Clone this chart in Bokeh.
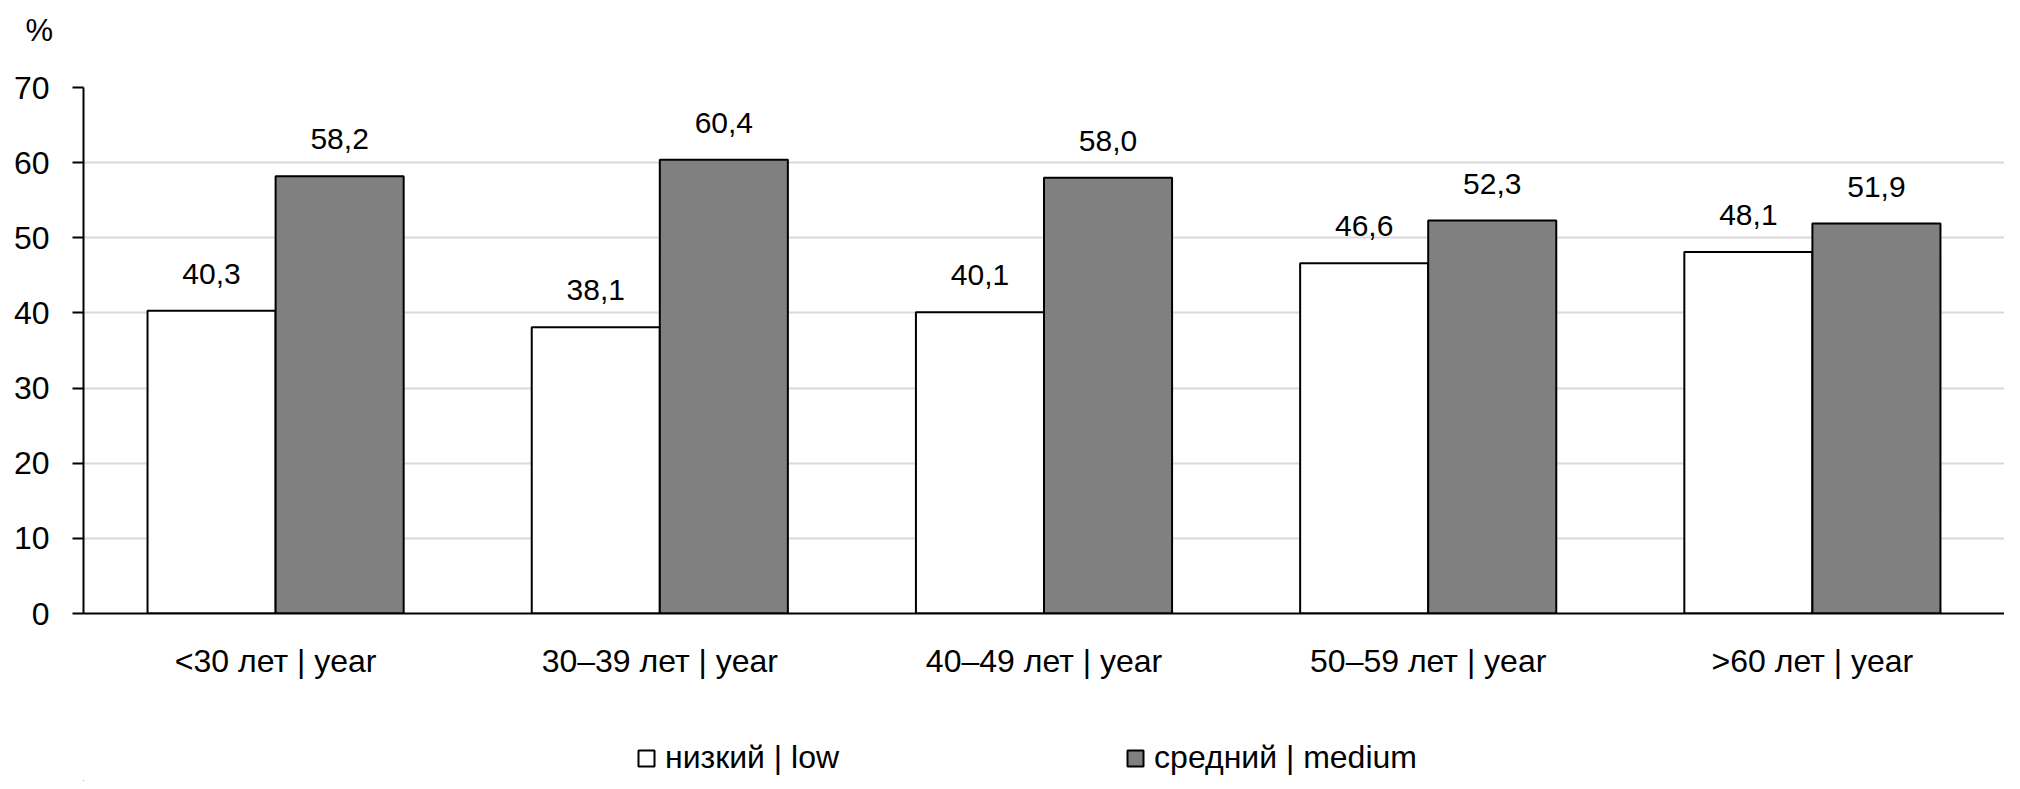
from bokeh.plotting import figure
from bokeh.models import ColumnDataSource, FactorRange, Range1d, Legend, LegendItem, FixedTicker
from bokeh.layouts import column
from bokeh.transform import dodge
from bokeh.core.properties import value
from bokeh.embed import file_html
from bokeh.resources import INLINE

categories = ["<30 лет | year", "30–39 лет | year", "40–49 лет | year", "50–59 лет | year", ">60 лет | year"]
low = [40.3, 38.1, 40.1, 46.6, 48.1]
medium = [58.2, 60.4, 58.0, 52.3, 51.9]
series_names = ["низкий | low", "средний | medium"]
y_ticks = [0, 10, 20, 30, 40, 50, 60, 70]
unit_label = "%"

FONT = "'Liberation Sans', Arial, sans-serif"
W = 2004
LEFT = 83
LOW_STYLE = dict(fill_color="white", line_color="black", line_width=2)
MED_STYLE = dict(fill_color="#808080", line_color="black", line_width=2)

def fmt(v):
    return f"{v:.1f}".replace(".", ",")

src = ColumnDataSource(dict(
    cat=categories,
    low=low,
    medium=medium,
    low_lbl=[fmt(v) for v in low],
    med_lbl=[fmt(v) for v in medium],
))

def blank(height):
    f = figure(width=W, height=height, x_range=Range1d(0, W), y_range=Range1d(0, height),
               x_axis_location=None, y_axis_location=None,
               output_backend="svg", toolbar_location=None, min_border=0)
    f.grid.grid_line_color = None
    f.outline_line_color = None
    return f

# top strip: unit label as a title
top = blank(60)
top.title.text = unit_label
top.title.align = "left"
top.title.offset = -58
top.title.standoff = 20
top.title.text_font = FONT
top.title.text_font_size = "31px"
top.title.text_font_style = "normal"
top.title.text_color = "black"

# main chart
p = figure(
    width=W, height=625,
    x_range=FactorRange(*categories, range_padding=0),
    y_range=Range1d(0, 70),
    output_backend="svg", toolbar_location=None,
    min_border_left=LEFT, min_border_right=0, min_border_top=27, min_border_bottom=72,
)
p.outline_line_color = None
p.xgrid.grid_line_color = None
p.ygrid.grid_line_color = "#d9d9d9"
p.ygrid.grid_line_width = 2

p.vbar(x=dodge("cat", -1/6, range=p.x_range), top="low", width=1/3, source=src, **LOW_STYLE)
p.vbar(x=dodge("cat", 1/6, range=p.x_range), top="medium", width=1/3, source=src, **MED_STYLE)

p.text(x=dodge("cat", -1/6, range=p.x_range), y="low", text="low_lbl", source=src,
       text_align="center", text_baseline="alphabetic", y_offset=-37,
       text_font=value(FONT), text_font_size="30px", text_color="black")
p.text(x=dodge("cat", 1/6, range=p.x_range), y="medium", text="med_lbl", source=src,
       text_align="center", text_baseline="alphabetic", y_offset=-37,
       text_font=value(FONT), text_font_size="30px", text_color="black")

ya = p.yaxis[0]
ya.ticker = FixedTicker(ticks=y_ticks)
ya.axis_line_color = "black"
ya.axis_line_width = 2
ya.major_tick_line_color = "black"
ya.major_tick_line_width = 2
ya.major_tick_out = 11
ya.major_tick_in = 0
ya.minor_tick_line_color = None
ya.major_label_text_font = FONT
ya.major_label_text_font_size = "32px"
ya.major_label_text_color = "black"
ya.major_label_standoff = 23

xa = p.xaxis[0]
xa.axis_line_color = "black"
xa.axis_line_width = 2
xa.major_tick_line_color = None
xa.minor_tick_line_color = None
xa.major_label_text_font = FONT
xa.major_label_text_font_size = "32px"
xa.major_label_text_color = "black"
xa.major_label_standoff = 23

# legend strip (zero-height legend proxies far outside the visible range; only their styles show)
leg = blank(96)
proxy = ColumnDataSource(dict(x=[-100000], top=[-100000], bottom=[-100000]))
r_low = leg.vbar(x="x", top="top", bottom="bottom", width=1, source=proxy, **LOW_STYLE)
r_med = leg.vbar(x="x", top="top", bottom="bottom", width=1, source=proxy, **MED_STYLE)
legend = Legend(items=[LegendItem(label=series_names[0], renderers=[r_low]),
                       LegendItem(label=series_names[1], renderers=[r_med])],
                orientation="horizontal", location=(636 - LEFT, 5),
                glyph_width=20, glyph_height=20, label_standoff=9, spacing=286,
                padding=0, margin=0, border_line_color=None, background_fill_alpha=0,
                label_text_font=FONT, label_text_font_size="32px", label_text_color="black")
leg.add_layout(legend, "center")

layout = column(top, p, leg, spacing=0)
open("out.html", "w").write(file_html(layout, INLINE))
